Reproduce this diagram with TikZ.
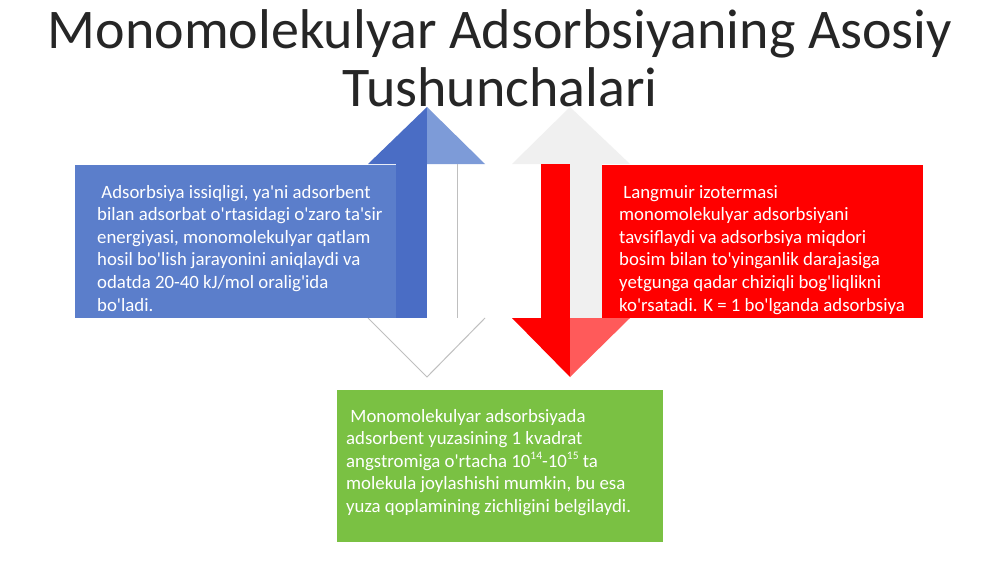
\documentclass[tikz,border=0pt]{standalone}
\usepackage{fontspec}
\setmainfont{Carlito}[Ligatures=TeXOff]
\definecolor{titlecol}{HTML}{262626}
\definecolor{boxblue}{HTML}{5B7ECB}
\definecolor{bluedark}{HTML}{4A6DC5}
\definecolor{bluelight}{HTML}{7D9BD8}
\definecolor{boxred}{HTML}{FF0000}
\definecolor{redlight}{HTML}{FF5A5A}
\definecolor{headgray}{HTML}{F0F0F0}
\definecolor{boxgreen}{HTML}{7AC143}
\definecolor{edgegray}{HTML}{BFBFBF}
\tikzset{
  titletext/.style={font=\fontsize{56}{58}\selectfont, text=titlecol, inner sep=0pt, anchor=base},
  boxshape/.style={rectangle, draw=none, inner sep=0pt, anchor=north west},
  boxtext/.style={font=\fontsize{18.8}{22.6}\selectfont, text=white, inner sep=0pt, align=left, anchor=base west},
}
\newcommand{\lsp}{\hspace*{0.226em}}
\newcommand{\supnum}[1]{\raisebox{0.42em}{\fontsize{11.5}{11.5}\selectfont #1}}
\begin{document}
\begin{tikzpicture}[x=1pt,y=-1pt]
\useasboundingbox (0,0) rectangle (1000,562);
\fill[white] (0,0) rectangle (1000,562);

% title
\node[titletext] (t1) at (500,48) {Monomolekulyar Adsorbsiyaning Asosiy};
\node[titletext] (t2) at (500,106) {Tushunchalari};

% blue up/down arrow
\fill[bluedark] (368,164) -- (427,107) -- (427,164) -- cycle;
\fill[bluelight] (427,107) -- (485,164) -- (427,164) -- cycle;
\fill[bluedark] (396,164) rectangle (427,318);
\draw[edgegray, line width=1pt] (457,164) -- (457,318);
\fill[white] (368,318) -- (427,377) -- (485,318) -- cycle;
\draw[edgegray, line width=1pt, line join=round] (368,318) -- (427,377) -- (485,318);

% red up/down arrow
\fill[headgray] (512,164) -- (570,107) -- (630,164) -- cycle;
\fill[boxred] (541,164) rectangle (570,318);
\fill[headgray] (570,164) rectangle (602,318);
\fill[boxred] (512,318) -- (570,377) -- (570,318) -- cycle;
\fill[redlight] (570,318) -- (570,377) -- (630,318) -- cycle;

% boxes
\node[boxshape, fill=boxblue, minimum width=321pt, minimum height=153pt] (bblue) at (75,165) {};
\node[boxshape, fill=boxred, minimum width=321pt, minimum height=153pt] (bred) at (602,165) {};
\node[boxshape, fill=boxgreen, minimum width=326pt, minimum height=152pt] (bgreen) at (337,390) {};

% texts (anchor at the baseline of the last line)
\node[boxtext] (tblue) at (97,311) {\lsp Adsorbsiya issiqligi, ya'ni adsorbent\\
bilan adsorbat o'rtasidagi o'zaro ta'sir\\
energiyasi, monomolekulyar qatlam\\
hosil bo'lish jarayonini aniqlaydi va\\
odatda 20-40 kJ/mol oralig'ida\\
bo'ladi.};

\node[boxtext] (tred) at (619,311) {\lsp Langmuir izotermasi\\
monomolekulyar adsorbsiyani\\
tavsiflaydi va adsorbsiya miqdori\\
bosim bilan to'yinganlik darajasiga\\
yetgunga qadar chiziqli bog'liqlikni\\
ko'rsatadi. K = 1 bo'lganda adsorbsiya};

\node[boxtext] (tgreen) at (346,512.4) {\lsp Monomolekulyar adsorbsiyada\\
adsorbent yuzasining 1 kvadrat\\
angstromiga o'rtacha 10\supnum{14}-10\supnum{15} ta\\
molekula joylashishi mumkin, bu esa\\
yuza qoplamining zichligini belgilaydi.};
\end{tikzpicture}
\end{document}
